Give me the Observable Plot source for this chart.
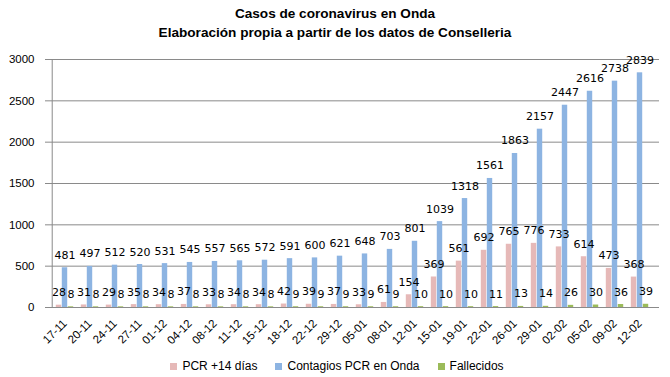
<!DOCTYPE html>
<html><head><meta charset="utf-8">
<script src="https://cdn.jsdelivr.net/npm/d3@7"></script>
<script src="https://cdn.jsdelivr.net/npm/@observablehq/plot@0.6"></script>
<style>
body{margin:0;background:#fff;width:670px;overflow:hidden}
#title{height:45px;padding-top:4px;box-sizing:border-box;text-align:center;font:bold 13.6px "Liberation Sans",Arial,sans-serif;line-height:19px;color:#000}
#legend{display:flex;justify-content:center;font:12px "Liberation Sans",Arial,sans-serif;color:#000;margin-top:8px;padding-left:4px;line-height:16px}
#legend span.it{display:flex;align-items:center;margin:0 9px}
#legend i{display:inline-block;width:7px;height:7px;margin-right:5px}
</style></head>
<body>
<div id="title">Casos de coronavirus en Onda<br>Elaboración propia a partir de los datos de Conselleria</div>
<div id="chart"></div>
<div id="legend"></div>
<script>
const fechas = ["17-11","20-11","24-11","27-11","01-12","04-12","08-12","11-12","15-12","18-12","22-12","29-12","05-01","08-01","12-01","15-01","19-01","22-01","26-01","29-01","02-02","05-02","09-02","12-02"];
const pcr14 = [28,31,29,35,34,37,33,34,34,42,39,37,33,61,154,369,561,692,765,776,733,614,473,368];
const contagios = [481,497,512,520,531,545,557,565,572,591,600,621,648,703,801,1039,1318,1561,1863,2157,2447,2616,2738,2839];
const fallecidos = [8,8,8,8,8,8,8,8,8,9,9,9,9,9,10,10,10,11,13,14,26,30,36,39];
const seriesNames = ["PCR +14 días","Contagios PCR en Onda","Fallecidos"];
const colors = ["#e6b9b8","#8db4e2","#9bbb59"];
const yTicks = [0,500,1000,1500,2000,2500,3000];

const W = 670, mL = 45, mR = 11, mT = 14, mB = 43, H = 305;
const bw = (W - mL - mR) / fechas.length;
const barW = 6;
const offs = [-6, 0, 6];
const vals = [pcr14, contagios, fallecidos];

const marks = [
  Plot.ruleY(yTicks, {stroke: "#8a8a8a", strokeWidth: 1})
];
vals.forEach((arr, i) => {
  const data = fechas.map((f, j) => ({f, v: arr[j]}));
  const c = offs[i];
  marks.push(Plot.barY(data, {
    x: "f", y: "v", fill: colors[i],
    insetLeft: bw/2 + c - barW/2, insetRight: bw/2 - c - barW/2
  }));
});
vals.forEach((arr, i) => {
  const data = fechas.map((f, j) => ({f, v: arr[j]}));
  marks.push(Plot.text(data, {
    x: "f", y: "v", text: d => String(d.v), dx: offs[i], dy: -9,
    lineAnchor: "bottom", fill: "#000", fontSize: 11,
    fontFamily: "DejaVu Sans"
  }));
});
marks.push(Plot.ruleY([0], {stroke: "#8a8a8a"}));
marks.push(Plot.ruleX([0], {x: () => fechas[0], dx: -bw/2, stroke: "#8a8a8a", y1: 0, y2: 3000}));

const chart = Plot.plot({
  width: W, height: H,
  marginLeft: mL, marginRight: mR, marginTop: mT, marginBottom: mB,
  style: {fontFamily: "Liberation Sans, Arial, sans-serif", fontSize: "11.5px", color: "#000", background: "#fff", overflow: "visible"},
  x: {type: "band", domain: fechas, padding: 0, tickRotate: -45, tickSize: 0, tickPadding: 14, label: null},
  y: {domain: [0, 3000], ticks: yTicks, tickFormat: d => String(d), tickSize: 0, tickPadding: 11, label: null},
  marks
});
document.getElementById("chart").appendChild(chart);

const lg = document.getElementById("legend");
seriesNames.forEach((n, i) => {
  const s = document.createElement("span");
  s.className = "it";
  s.innerHTML = `<i style="background:${colors[i]}"></i>${n}`;
  lg.appendChild(s);
});
</script>
</body></html>
